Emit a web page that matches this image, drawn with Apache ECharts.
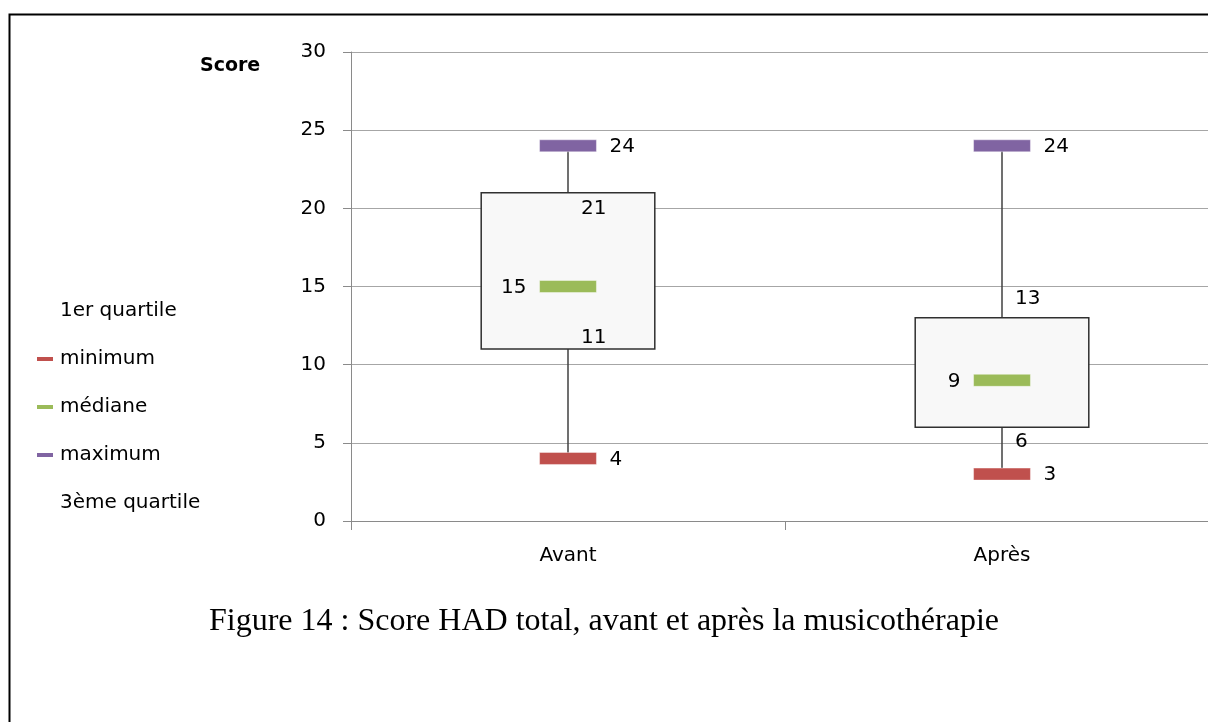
<!DOCTYPE html>
<html>
<head>
<meta charset="utf-8">
<script src="https://cdn.jsdelivr.net/npm/echarts@6/dist/echarts.min.js"></script>
<style>
  html, body { margin: 0; padding: 0; background: #fff; }
  #chart { width: 1208px; height: 722px; }
</style>
</head>
<body>
<div id="chart"></div>
<script>
// valeurs
var categories = ['Avant', 'Après'];
var minimum = [4, 3];
var firstQuartile = [11, 6];
var median = [15, 9];
var thirdQuartile = [21, 13];
var maximum = [24, 24];
var scoreTicks = { min: 0, max: 30, step: 5 };

var FONT = 'DejaVu Sans';
var labelInside = [true, false]; // Avant : étiquettes des quartiles dans la boîte

var chart = echarts.init(document.getElementById('chart'));

function markerRender(color, side) {
  return function (params, api) {
    var c = api.coord([api.value(0), api.value(1)]);
    var band = api.size([1, 0])[0];
    var w = band * 0.131;
    var tx = side === 'right' ? c[0] + w / 2 + 13 : c[0] - w / 2 - 13;
    return {
      type: 'group',
      children: [
        { type: 'rect', shape: { x: c[0] - w / 2, y: c[1] - 6, width: w, height: 12 },
          style: { fill: color, stroke: 'rgba(255,255,255,0.4)', lineWidth: 1 } },
        { type: 'text', style: { text: String(api.value(1)), x: tx, y: c[1] + 1,
          align: side === 'right' ? 'left' : 'right', verticalAlign: 'middle',
          font: '20px "' + FONT + '"', fill: '#000' } }
      ]
    };
  };
}

function quartileRender(upper) {
  return function (params, api) {
    var c = api.coord([api.value(0), api.value(1)]);
    var inside = labelInside[params.dataIndex];
    var dy;
    if (upper) dy = inside ? 16 : -19;
    else dy = inside ? -11 : 15;
    return {
      type: 'text',
      style: { text: String(api.value(1)), x: c[0] + 13, y: c[1] + dy,
        align: 'left', verticalAlign: 'middle',
        font: '20px "' + FONT + '"', fill: '#000' }
    };
  };
}

function pairs(arr) {
  return arr.map(function (v, i) { return [i, v]; });
}

var option = {
  backgroundColor: '#fff',
  animation: false,
  title: [{
    text: 'Figure 14 : Score HAD total, avant et après la musicothérapie',
    left: 'center',
    top: 601,
    textStyle: { fontFamily: 'Liberation Serif', fontSize: 32, fontWeight: 'normal', color: '#000' }
  }, {
    text: 'Score',
    left: 195,
    top: 52,
    textStyle: { fontFamily: FONT, fontSize: 19, fontWeight: 'bold', color: '#000' }
  }],
  graphic: [{
    type: 'rect',
    left: 7, top: 12,
    shape: { width: 1400, height: 900 },
    style: { fill: 'none', stroke: '#000', lineWidth: 2 },
    silent: true
  }],
  legend: {
    orient: 'vertical',
    left: 32,
    top: 296,
    itemGap: 28,
    itemWidth: 16,
    itemHeight: 4,
    icon: 'rect',
    textStyle: { fontFamily: FONT, fontSize: 20, color: '#000', padding: [0, 0, 0, 2] },
    data: [
      { name: '1er quartile', itemStyle: { opacity: 0 } },
      'minimum',
      'médiane',
      'maximum',
      { name: '3ème quartile', itemStyle: { opacity: 0 } }
    ]
  },
  grid: { left: 351, top: 52, width: 868, bottom: 201, outerBoundsMode: 'none' },
  xAxis: {
    type: 'category',
    data: categories,
    boundaryGap: true,
    axisLine: { lineStyle: { color: '#8a8a8a' } },
    axisTick: { show: true, length: 9, lineStyle: { color: '#8a8a8a' } },
    axisLabel: { fontFamily: FONT, fontSize: 20, color: '#000', margin: 25 }
  },
  yAxis: {
    type: 'value',
    min: scoreTicks.min,
    max: scoreTicks.max,
    interval: scoreTicks.step,
    axisLine: { show: true, lineStyle: { color: '#8a8a8a' } },
    axisTick: { show: true, length: 8, lineStyle: { color: '#8a8a8a' } },
    splitLine: { lineStyle: { color: '#a6a6a6' } },
    axisLabel: { fontFamily: FONT, fontSize: 20, color: '#000', margin: 25 }
  },
  series: [{
    name: 'moustache',
    type: 'custom',
    z: 1,
    data: categories.map(function (c, i) { return [i, minimum[i], maximum[i]]; }),
    renderItem: function (params, api) {
      var lo = api.coord([api.value(0), api.value(1)]);
      var hi = api.coord([api.value(0), api.value(2)]);
      return { type: 'line', shape: { x1: lo[0], y1: lo[1], x2: hi[0], y2: hi[1] },
        style: { stroke: '#404040', lineWidth: 1.5 } };
    }
  }, {
    name: 'boîte',
    type: 'custom',
    z: 2,
    data: categories.map(function (c, i) { return [i, firstQuartile[i], thirdQuartile[i]]; }),
    renderItem: function (params, api) {
      var lo = api.coord([api.value(0), api.value(1)]);
      var hi = api.coord([api.value(0), api.value(2)]);
      var w = api.size([1, 0])[0] * 0.4;
      return { type: 'rect', shape: { x: lo[0] - w / 2, y: hi[1], width: w, height: lo[1] - hi[1] },
        style: { fill: '#f8f8f8', stroke: '#303030', lineWidth: 1.5 } };
    }
  }, {
    name: '1er quartile',
    type: 'custom',
    z: 4,
    itemStyle: { color: '#ffffff' },
    data: pairs(firstQuartile),
    renderItem: quartileRender(false)
  }, {
    name: 'minimum',
    type: 'custom',
    z: 3,
    itemStyle: { color: '#c0504d' },
    data: pairs(minimum),
    renderItem: markerRender('#c0504d', 'right')
  }, {
    name: 'médiane',
    type: 'custom',
    z: 3,
    itemStyle: { color: '#9bbb59' },
    data: pairs(median),
    renderItem: markerRender('#9bbb59', 'left')
  }, {
    name: 'maximum',
    type: 'custom',
    z: 3,
    itemStyle: { color: '#8064a2' },
    data: pairs(maximum),
    renderItem: markerRender('#8064a2', 'right')
  }, {
    name: '3ème quartile',
    type: 'custom',
    z: 4,
    itemStyle: { color: '#ffffff' },
    data: pairs(thirdQuartile),
    renderItem: quartileRender(true)
  }]
};

chart.setOption(option);
</script>
</body>
</html>
